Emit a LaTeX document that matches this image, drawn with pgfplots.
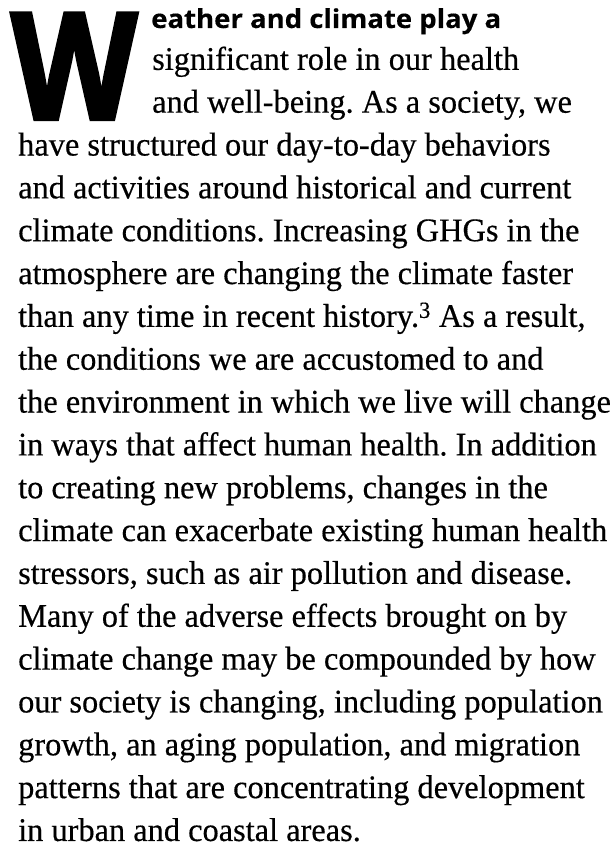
\documentclass[border=0pt]{standalone}
\usepackage{pgfplots}
\pgfplotsset{compat=1.18}
\usepackage{fontspec}
\setmainfont{Liberation Serif}[FakeBold=0.4]
\newfontfamily\headfont{Open Sans}[BoldFeatures={FakeBold=0.3}]
\newfontfamily\capfont[FakeBold=2.6]{Open Sans}
\newlength\reflen
\newlength\headlen
\newcommand\bodysize{\fontsize{33}{40}\selectfont}
\newcommand\headsize{\fontsize{26}{30}\selectfont}
\newcommand\tline[3]{\node[anchor=base west, inner sep=0pt] at (axis cs:#1,#2) {\scalebox{\hs}[1]{\bodysize #3}};}
\frenchspacing
\begin{document}%
\settowidth\reflen{\bodysize climate can exacerbate existing human health}%
\settowidth\headlen{\headsize\headfont\bfseries eather and climate play a}%
\pgfmathsetmacro\hs{589/\reflen}%
\pgfmathsetmacro\hh{350/\headlen}%
\begin{tikzpicture}[x=1pt,y=1pt]
\path[use as bounding box] (0,0) rectangle (615,850);
\begin{axis}[at={(0pt,0pt)}, anchor=south west, width=615pt, height=850pt,
  scale only axis, xmin=0, xmax=615, ymin=0, ymax=850, y dir=reverse,
  hide axis, clip=false]
\node[anchor=north west, inner sep=0pt] at (axis cs:11,13) {\resizebox{126pt}{106pt}{\capfont\bfseries W}};
\node[anchor=base west, inner sep=0pt] at (axis cs:151,28) {\scalebox{\hh}[1]{\headsize\headfont\bfseries eather and climate play a}};
\tline{152}{69.84}{significant role in our health}
\tline{152}{112.68}{and well-being. As a society, we}
\tline{18}{155.52}{have structured our day-to-day behaviors}
\tline{18}{198.36}{and activities around historical and current}
\tline{18}{241.2}{climate conditions. Increasing GHGs in the}
\tline{18}{284.04}{atmosphere are changing the climate faster}
\tline{18}{326.88}{than any time in recent history.\textsuperscript{3} As a result,}
\tline{18}{369.72}{the conditions we are accustomed to and}
\tline{18}{412.56}{the environment in which we live will change}
\tline{18}{455.4}{in ways that affect human health. In addition}
\tline{18}{498.24}{to creating new problems, changes in the}
\tline{18}{541.08}{climate can exacerbate existing human health}
\tline{18}{583.92}{stressors, such as air pollution and disease.}
\tline{18}{626.76}{Many of the adverse effects brought on by}
\tline{18}{669.6}{climate change may be compounded by how}
\tline{18}{712.44}{our society is changing, including population}
\tline{18}{755.28}{growth, an aging population, and migration}
\tline{18}{798.12}{patterns that are concentrating development}
\tline{18}{840.96}{in urban and coastal areas.}
\end{axis}
\end{tikzpicture}%
\end{document}
